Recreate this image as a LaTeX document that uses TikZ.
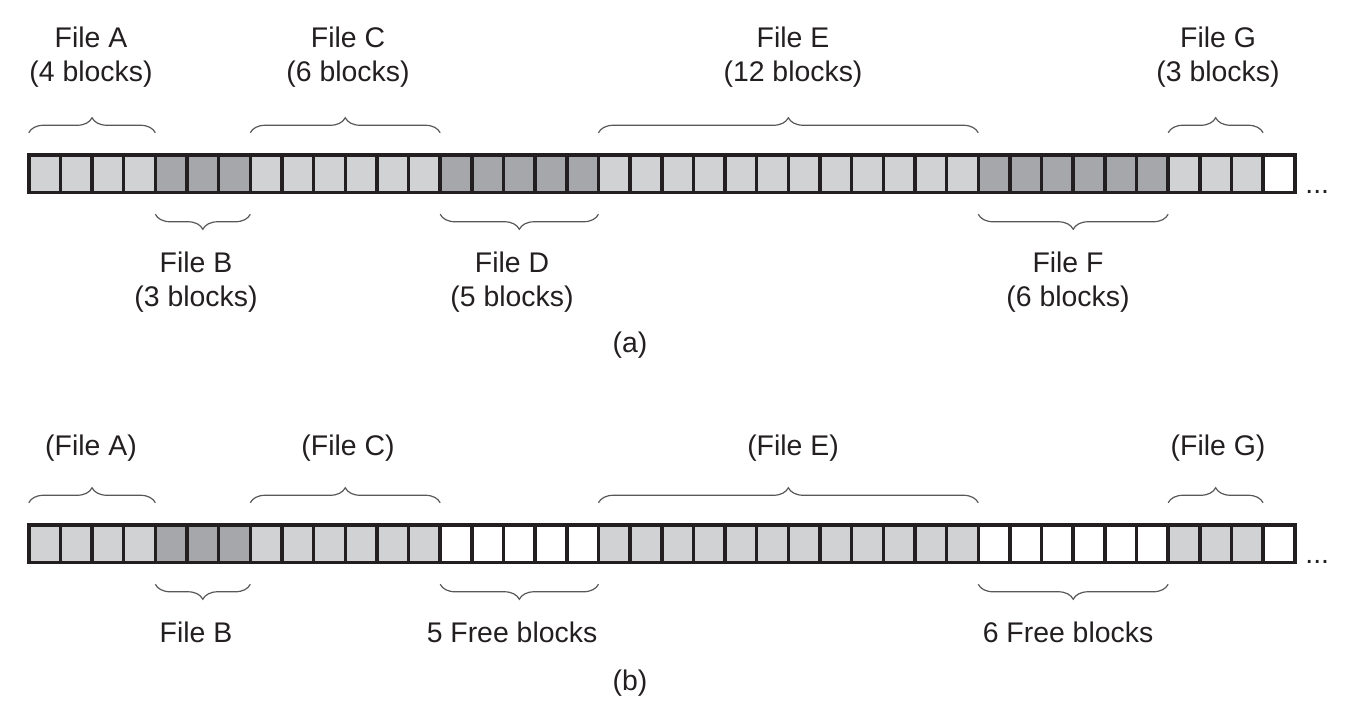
\documentclass[tikz,border=0pt]{standalone}
\usepackage{fontspec}
\setmainfont{Liberation Sans}
\usetikzlibrary{decorations.pathreplacing}
\definecolor{lt}{HTML}{D1D2D4}
\definecolor{dk}{HTML}{A6A7AA}
\definecolor{ink}{HTML}{231F20}
\begin{document}
\begin{tikzpicture}[x=0.5pt,y=-0.5pt,
  cell/.style={draw=ink, line width=1.75pt, minimum width=15.825pt, minimum height=18.75pt,
    inner sep=0pt, outer sep=0pt, anchor=north west},
  lbl/.style={font=\fontsize{14.2}{17}\selectfont, text=ink, anchor=base, inner sep=0pt},
  brc/.style={decorate, decoration={brace, amplitude=7.5pt}, draw=ink!75, line width=0.6pt}]
\useasboundingbox (0,0) rectangle (1347,709);

% strip (a)
\foreach \c [count=\i from 0] in {lt,lt,lt,lt,dk,dk,dk,lt,lt,lt,lt,lt,lt,dk,dk,dk,dk,dk,
  lt,lt,lt,lt,lt,lt,lt,lt,lt,lt,lt,lt,dk,dk,dk,dk,dk,dk,lt,lt,lt,white}
  \node[cell, fill=\c] (a\i) at ({28.75+\i*31.65},154.75) {};
% strip (b)
\foreach \c [count=\i from 0] in {lt,lt,lt,lt,dk,dk,dk,lt,lt,lt,lt,lt,lt,white,white,white,white,white,
  lt,lt,lt,lt,lt,lt,lt,lt,lt,lt,lt,lt,white,white,white,white,white,white,lt,lt,lt,white}
  \node[cell, fill=\c] (b\i) at ({28.75+\i*31.65},524.75) {};

\node[lbl, anchor=base west] (dotsa) at (1305,193) {...};
\node[lbl, anchor=base west] (dotsb) at (1305,563) {...};

% braces (a)
\foreach \s/\e in {0/3,7/12,18/29,36/38}
  \draw[brc] ([yshift=11pt]a\s.north west) -- ([yshift=11pt]a\e.north east);
\foreach \s/\e in {4/6,13/17,30/35}
  \draw[brc] ([yshift=-11pt]a\e.south east) -- ([yshift=-11pt]a\s.south west);
% braces (b)
\foreach \s/\e in {0/3,7/12,18/29,36/38}
  \draw[brc] ([yshift=11pt]b\s.north west) -- ([yshift=11pt]b\e.north east);
\foreach \s/\e in {4/6,13/17,30/35}
  \draw[brc] ([yshift=-11pt]b\e.south east) -- ([yshift=-11pt]b\s.south west);

% labels (a)
\node[lbl] (la1) at (91,47.5) {File A};
\node[lbl] (la2) at (91,81) {(4 blocks)};
\node[lbl] (lc1) at (348,47.5) {File C};
\node[lbl] (lc2) at (348,81) {(6 blocks)};
\node[lbl] (le1) at (793,47.5) {File E};
\node[lbl] (le2) at (793,81) {(12 blocks)};
\node[lbl] (lg1) at (1218,47.5) {File G};
\node[lbl] (lg2) at (1218,81) {(3 blocks)};
\node[lbl] (lb1) at (196,272) {File B};
\node[lbl] (lb2) at (196,306) {(3 blocks)};
\node[lbl] (ld1) at (512,272) {File D};
\node[lbl] (ld2) at (512,306) {(5 blocks)};
\node[lbl] (lf1) at (1068,272) {File F};
\node[lbl] (lf2) at (1068,306) {(6 blocks)};
\node[lbl] (capa) at (630,352) {(a)};

% labels (b)
\node[lbl] (ma) at (91,455) {(File A)};
\node[lbl] (mc) at (348,455) {(File C)};
\node[lbl] (me) at (793,455) {(File E)};
\node[lbl] (mg) at (1218,455) {(File G)};
\node[lbl] (mb) at (196,642) {File B};
\node[lbl] (md) at (512,642) {5 Free blocks};
\node[lbl] (mf) at (1068,642) {6 Free blocks};
\node[lbl] (capb) at (630,690) {(b)};
\end{tikzpicture}
\end{document}
